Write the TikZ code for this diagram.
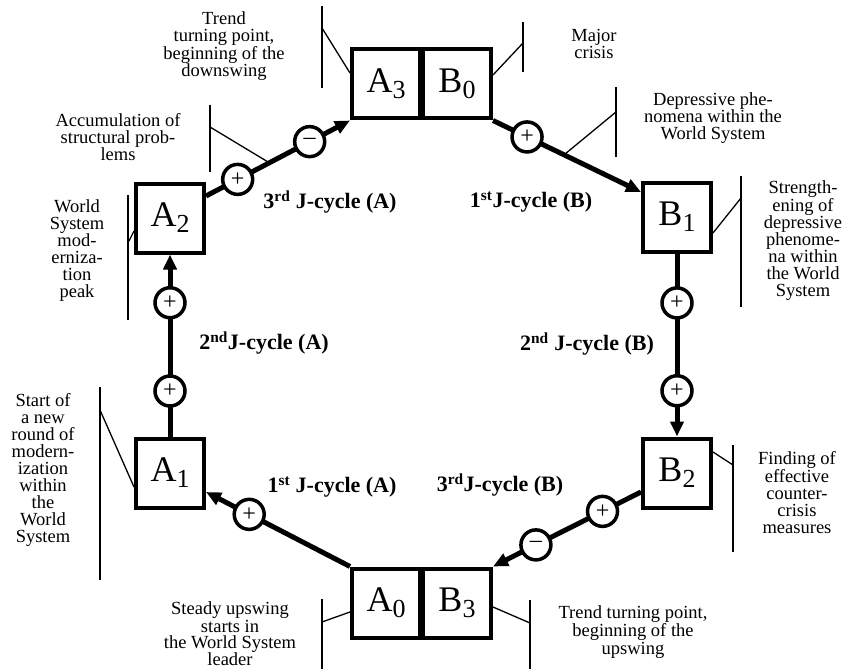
\documentclass[tikz,border=0pt]{standalone}
\usepackage{fontspec}
\setmainfont{Liberation Serif}
\usetikzlibrary{arrows.meta,calc}
\newcommand{\bsub}[2]{#1\raisebox{-6pt}{\fontsize{26}{26}\selectfont #2}}
\begin{document}
\begin{tikzpicture}[x=1pt,y=-1pt,
 box/.style={draw,line width=4pt,minimum width=68pt,minimum height=69pt,inner sep=0pt,font=\fontsize{36}{36}\selectfont},
 conn/.style={line width=5pt,-{Triangle[length=15pt,width=13pt]}},
 pm/.style={circle,draw,line width=3.5pt,fill=white,minimum size=30pt,inner sep=0pt,font=\fontsize{24}{24}\selectfont},
 ann/.style={line width=1.3pt},
 note/.style={align=center,inner sep=0pt,font=\fontsize{18.5}{17}\selectfont},
 cyc/.style={inner sep=0pt,font=\fontsize{22}{22}\selectfont\bfseries}
]
\useasboundingbox[fill=white] (0,0) rectangle (847,669);

% boxes
\node[box] (A3) at (386,84) {\bsub{A}{3}};
\node[box] (B0) at (457,84) {\bsub{B}{0}};
\node[box] (A2) at (170,218) {\bsub{A}{2}};
\node[box] (B1) at (677,217) {\bsub{B}{1}};
\node[box] (A1) at (170,473) {\bsub{A}{1}};
\node[box] (B2) at (677,473) {\bsub{B}{2}};
\node[box] (A0) at (386,603) {\bsub{A}{0}};
\node[box] (B3) at (457,603) {\bsub{B}{3}};

% connectors
\draw[conn] (A0.north west) -- node[pm,pos=0.7] (p1) {+} ($(A1.east)+(0,19)$);
\draw[conn] (A1.north) -- node[pm,pos=0.25] (p2) {+} node[pm,pos=0.735] (p3) {+} (A2.south);
\draw[conn] ($(A2.east)+(0,-22)$) -- node[pm,pos=0.22] (p4) {+} coordinate[pos=0.44] (k3) node[pm,pos=0.72] (p5) {--} (A3.south west);
\draw[conn] (B0.south east) -- node[pm,pos=0.23] (p6) {+} coordinate[pos=0.48] (k4) ($(B1.west)+(0,-25)$);
\draw[conn] (B1.south) -- node[pm,pos=0.27] (p7) {+} node[pm,pos=0.75] (p8) {+} (B2.north);
\draw[conn] ($(B2.west)+(0,19)$) -- node[pm,pos=0.26] (p9) {+} node[pm,pos=0.71] (p10) {--} (B3.north east);

% cycle labels
\node[cyc] (c1) at (330,202) {3\textsuperscript{rd} J-cycle (A)};
\node[cyc] (c2) at (531,202) {1\textsuperscript{st}J-cycle (B)};
\node[cyc] (c3) at (264,343) {2\textsuperscript{nd}J-cycle (A)};
\node[cyc] (c4) at (587,344) {2\textsuperscript{nd} J-cycle (B)};
\node[cyc] (c5) at (332,487) {1\textsuperscript{st} J-cycle (A)};
\node[cyc] (c6) at (500,485) {3\textsuperscript{rd}J-cycle (B)};

% annotations
% A3
\coordinate (a3t) at (322,6); \coordinate (a3b) at (322,88); \coordinate (a3k) at (322,28);
\draw[ann] (a3t) -- (a3b); \draw[ann] (a3k) -- ($(A3.west)+(0,-11)$);
\node[note] (n1) at (224,46) {Trend\\turning point,\\beginning of the\\downswing};
% B0
\coordinate (b0t) at (523,22); \coordinate (b0b) at (523,72); \coordinate (b0k) at (523,43);
\draw[ann] (b0t) -- (b0b); \draw[ann] ($(B0.east)+(0,-9)$) -- (b0k);
\node[note] (n2) at (594,44) {Major\\crisis};
% A2-A3 line
\coordinate (k3t) at (210,105); \coordinate (k3b) at (210,172); \coordinate (k3k) at (210,127);
\draw[ann] (k3t) -- (k3b); \draw[ann] (k3k) -- (k3);
\node[note] (n3) at (118,137) {Accumulation of\\structural prob-\\lems};
% B0-B1 line
\coordinate (k4t) at (616,87); \coordinate (k4b) at (616,157); \coordinate (k4k) at (616,112);
\draw[ann] (k4t) -- (k4b); \draw[ann] (k4k) -- (k4);
\node[note] (n4) at (713,118) {Depressive phe-\\nomena within the\\World System};
% B1
\coordinate (b1t) at (741,176); \coordinate (b1b) at (741,307); \coordinate (b1k) at (741,198);
\draw[ann] (b1t) -- (b1b); \draw[ann] ($(B1.east)+(0,16)$) -- (b1k);
\node[note] (n5) at (803,241) {Strength-\\ening of\\depressive\\phenome-\\na within\\the World\\System};
% A2
\coordinate (a2t) at (128,195); \coordinate (a2b) at (128,320); \coordinate (a2k) at (129,241);
\draw[ann] (a2t) -- (a2b); \draw[ann] (a2k) -- ($(A2.west)+(0,13)$);
\node[note] (n6) at (77,251) {World\\System\\mod-\\erniza-\\tion\\peak};
% A1
\coordinate (a1t) at (100,387); \coordinate (a1b) at (100,580); \coordinate (a1k) at (100,410);
\draw[ann] (a1t) -- (a1b); \draw[ann] (a1k) -- ($(A1.west)+(0,14)$);
\node[note] (n7) at (43,470) {Start of\\a new\\round of\\modern-\\ization\\within\\the\\World\\System};
% A0
\coordinate (a0t) at (322,599); \coordinate (a0b) at (322,672); \coordinate (a0k) at (322,622);
\draw[ann] (a0t) -- (a0b); \draw[ann] (a0k) -- ($(A0.west)+(0,9)$);
\node[note,font=\fontsize{18.5}{16}\selectfont] (n8) at (230,634) {Steady upswing\\starts in\\the World System\\leader};
% B2
\coordinate (b2t) at (733,445); \coordinate (b2b) at (733,552); \coordinate (b2k) at (733,465);
\draw[ann] (b2t) -- (b2b); \draw[ann] ($(B2.east)+(0,-21)$) -- (b2k);
\node[note] (n9) at (797,493) {Finding of\\effective\\counter-\\crisis\\measures};
% B3
\coordinate (b3t) at (530,600); \coordinate (b3b) at (530,672); \coordinate (b3k) at (530,623);
\draw[ann] (b3t) -- (b3b); \draw[ann] ($(B3.east)+(0,4)$) -- (b3k);
\node[note,font=\fontsize{18.5}{18}\selectfont] (n10) at (633,632) {Trend turning point,\\beginning of the\\upswing};
\end{tikzpicture}
\end{document}
